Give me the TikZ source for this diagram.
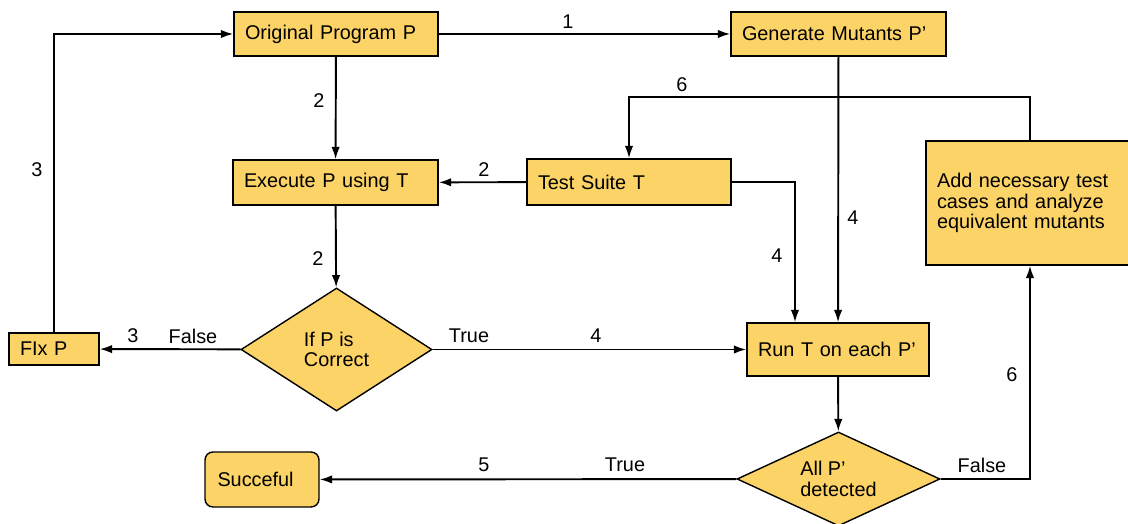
\documentclass[tikz,border=0pt]{standalone}
\usepackage{fontspec}
\setmainfont{Liberation Sans}
\usetikzlibrary{shapes.geometric, arrows.meta}
\definecolor{boxColor}{RGB}{252,211,102}

\begin{document}
\begin{tikzpicture}[
    caja/.style={draw, fill=boxColor, align=left, inner xsep=0.22cm, inner ysep=0pt, line width=0.8pt},
    rombo/.style={diamond, draw, fill=boxColor, aspect=2, inner sep=0pt, align=left, line width=0.8pt},
    flujo/.style={-{Latex[length=2.5mm, width=1.7mm]}, line width=1.1pt},
    font=\fontsize{11.3}{11.6}\selectfont]
    \useasboundingbox (0,0) rectangle (22.56,10.48);

    % Cajas del proceso
    \node[caja, text width=3.64cm, minimum height=0.88cm] (orig) at (6.72,9.80) {Original Program P};
    \node[caja, text width=3.86cm, minimum height=0.88cm] (gen) at (16.77,9.80) {Generate Mutants P’};
    \node[caja, text width=3.66cm, minimum height=0.90cm] (exec) at (6.71,6.83) {Execute P using T};
    \node[caja, text width=3.64cm, minimum height=0.92cm] (suite) at (12.58,6.84) {Test Suite T};
    \node[caja, text width=3.72cm, minimum height=2.48cm] (add) at (20.60,6.42) {Add necessary test\\cases and analyze\\equivalent mutants};
    \node[caja, text width=1.36cm, minimum height=0.64cm] (fix) at (1.08,3.50) {FIx P};
    \node[caja, text width=3.20cm, minimum height=1.06cm] (run) at (16.76,3.49) {Run T on each P’};
    \node[caja, rounded corners=0.16cm, text width=1.78cm, inner xsep=0.25cm, minimum height=1.10cm] (succ) at (5.24,0.89) {Succeful};

    % Decisiones
    \node[rombo, minimum width=3.82cm, minimum height=2.46cm] (ifp) at (6.73,3.49) {If P is\\Correct};
    \node[rombo, minimum width=4.06cm, minimum height=1.88cm] (all) at (16.77,0.90) {All P’\\detected};

    % Conexiones
    \draw[flujo] (orig) -- (gen);
    \draw[flujo] (orig) -- (exec);
    \draw[flujo] (suite) -- (exec);
    \draw[flujo] (exec) -- (ifp);
    \draw[flujo] (ifp) -- (fix);
    \draw[flujo] (fix) |- (orig);
    \draw[flujo] (ifp) -- (run);
    \draw[flujo] (gen) -- (run);
    \draw[flujo] (suite) -| ([xshift=-0.86cm]run.north);
    \draw[flujo] (run) -- (all);
    \draw[flujo] (all) -- (succ);
    \draw[flujo] (all) -| (add);
    \draw[flujo] (add.north) -- ++(0,0.86) -| (suite);

    % Etiquetas de los pasos
    \node (paso1) at (11.36,10.04) {1};
    \node (paso2a) at (6.38,8.46) {2};
    \node (paso2b) at (9.68,7.08) {2};
    \node (paso2c) at (6.36,5.30) {2};
    \node (paso3a) at (0.74,7.08) {3};
    \node (paso3b) at (2.66,3.76) {3};
    \node (falso1) at (3.86,3.76) {False};
    \node (cierto1) at (9.38,3.76) {True};
    \node (paso4a) at (11.92,3.76) {4};
    \node (paso4b) at (17.06,6.12) {4};
    \node (paso4c) at (15.54,5.36) {4};
    \node (paso5) at (9.68,1.18) {5};
    \node (cierto2) at (12.50,1.18) {True};
    \node (falso2) at (19.64,1.18) {False};
    \node (paso6a) at (20.24,2.98) {6};
    \node (paso6b) at (13.64,8.78) {6};
\end{tikzpicture}
\end{document}
